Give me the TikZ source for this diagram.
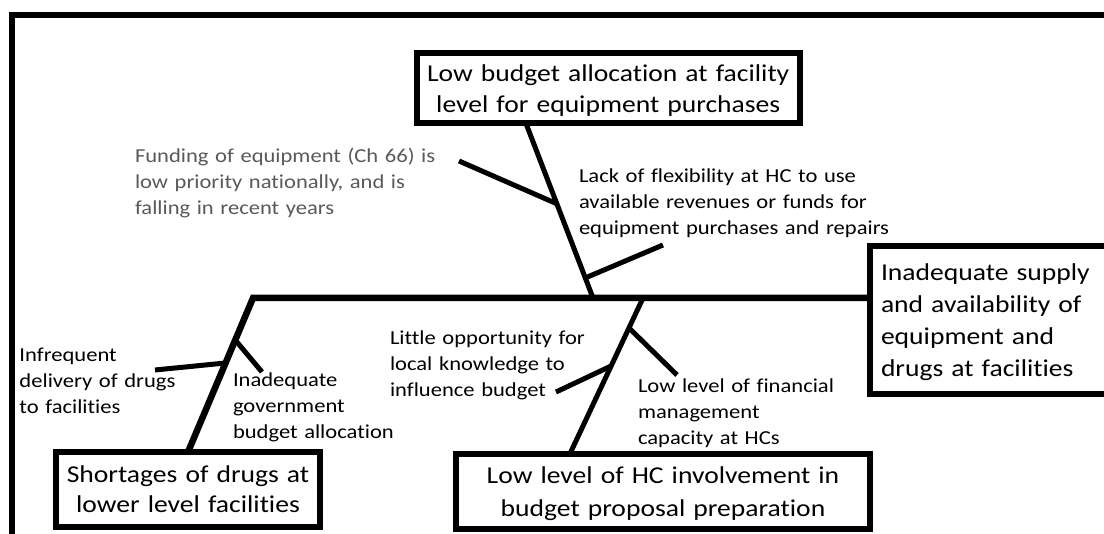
\documentclass[tikz,border=0pt]{standalone}
\usepackage{fontspec}
\setmainfont{Carlito}[FakeStretch=1.14, Ligatures={NoCommon}]
\usetikzlibrary{calc}
\definecolor{labelgray}{RGB}{89,89,89}

\begin{document}
\begin{tikzpicture}[x=1pt,y=-1pt,
  box/.style={draw, line width=6pt, fill=white, outer sep=0pt,
    inner xsep=0pt, inner ysep=0pt, align=center,
    font=\fontsize{24.2}{31}\selectfont},
  cause/.style={anchor=base west, inner sep=0pt, outer sep=0pt,
    align=left, text width=340pt, font=\fontsize{19.8}{25.6}\selectfont},
  bone/.style={line width=5pt},
  spine/.style={line width=6.5pt, line join=miter},
]
\useasboundingbox (0,0) rectangle (1104,534);
\clip (0,0) rectangle (1104,534);

% outer frame (runs past the right and bottom edges)
\draw[line width=6pt] (11.7,15.5) rectangle (1140,570);

% effect and main causes
\node[box, text width=382.5pt, text height=29pt, text depth=41.5pt,
  anchor=north] (top) at (608.25,53)
  {Low budget allocation at facility\\level for equipment purchases};
\node[box, font=\fontsize{24.2}{30}\selectfont, text width=264pt,
  text height=31pt, text depth=44.5pt, anchor=north] (short) at (188,452)
  {Shortages of drugs at\\lower level facilities};
\node[box, font=\fontsize{24.2}{33}\selectfont, text width=414pt,
  text height=30pt, text depth=45pt, anchor=north] (hc) at (663,454)
  {Low level of HC involvement in\\budget proposal preparation};
\node[box, font=\fontsize{24.2}{32}\selectfont, align=left, inner xsep=11pt,
  text width=250pt, text height=34.5pt, text depth=113pt,
  anchor=north west] (effect) at (870,246.5)
  {Inadequate supply\\and availability of\\equipment and\\drugs at facilities};

% points on the main line
\coordinate (head) at (253,298);
\coordinate (up) at (593,298);
\coordinate (down) at (643,298);
\coordinate (topfoot) at ($(top.south west)!0.285!(top.south east)$);
\coordinate (hcfoot) at ($(hc.north west)!0.275!(hc.north east)$);

% main line and lower-left bone
\draw[spine] (short.north) -- (head) -- (head -| effect.west);

% upper bone with its two sub-causes
\draw[bone] (topfoot) -- (up);
\coordinate (j1) at ($(topfoot)!0.46!(up)$);
\coordinate (j2) at ($(topfoot)!0.885!(up)$);
\coordinate (e1) at (459,161);
\coordinate (e2) at (663,245);
\draw[bone] (e1) -- (j1);
\draw[bone] (j2) -- (e2);

% lower-left sub-causes
\coordinate (j3) at ($(short.north)!0.578!(head)$);
\coordinate (j4) at ($(short.north)!0.727!(head)$);
\coordinate (e3) at (155,370);
\coordinate (e4) at (262,372);
\draw[bone] (e3) -- (j3);
\draw[bone] (j4) -- (e4);

% lower-middle bone with its two sub-causes
\draw[bone] (down) -- (hcfoot);
\coordinate (j5) at ($(down)!0.436!(hcfoot)$);
\coordinate (j6) at ($(down)!0.192!(hcfoot)$);
\coordinate (e5) at (556,392);
\coordinate (e6) at (677,375);
\draw[bone] (e5) -- (j5);
\draw[bone] (j6) -- (e6);

% sub-cause labels
\node[cause, text=labelgray] (fund) at (135,163)
  {Funding of equipment (Ch 66) is\\low priority nationally, and is\\falling in recent years};
\node[cause] (lack) at (579,183)
  {Lack of flexibility at HC to use\\available revenues or funds for\\equipment purchases and repairs};
\node[cause] (infreq) at (19.5,362)
  {Infrequent\\delivery of drugs\\to facilities};
\node[cause] (govt) at (233,387)
  {Inadequate\\government\\budget allocation};
\node[cause] (local) at (390,345)
  {Little opportunity for\\local knowledge to\\influence budget};
\node[cause] (fin) at (638,393)
  {Low level of financial\\management\\capacity at HCs};
\end{tikzpicture}
\end{document}
